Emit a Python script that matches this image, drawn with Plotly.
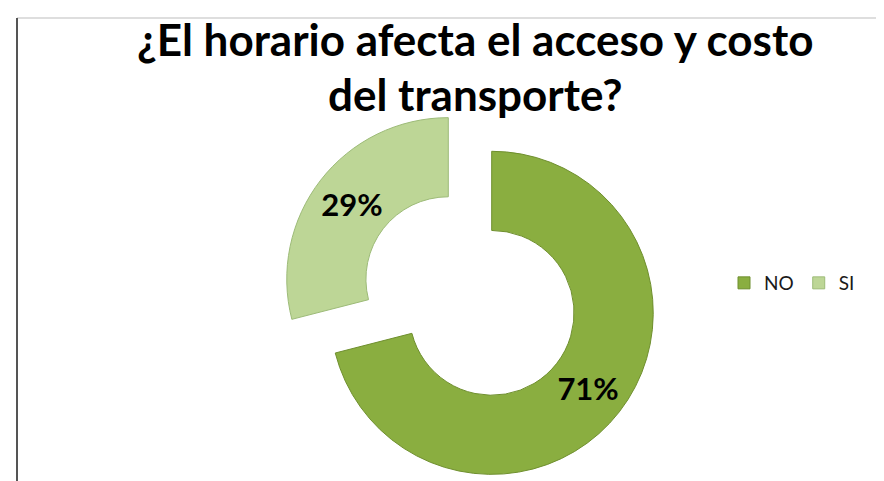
import plotly.graph_objects as go

# data
labels = ["NO", "SI"]
values = [71, 29]
colors = ["#8AAE40", "#BDD696"]
line_colors = ["#6F8F2E", "#9DBB78"]
title_lines = ["¿El horario afecta el acceso y costo", "del transporte?"]

W, H = 884, 481
FONT = "Lato, Open Sans, sans-serif"

fig = go.Figure()

fig.add_trace(go.Pie(
    labels=labels,
    values=values,
    hole=0.51,
    sort=False,
    direction="clockwise",
    rotation=0,
    pull=[0.17, 0.17],
    marker=dict(colors=colors, line=dict(color=line_colors, width=1)),
    texttemplate="%{percent:.0%}",
    textposition="inside",
    insidetextorientation="horizontal",
    textfont=dict(family=FONT, size=31, color="black", weight="bold"),
    domain=dict(x=[273 / W, 651 / W], y=[1 - 477 / H, 1 - 99 / H]),
    hoverinfo="label+percent",
))

# frame lines on top and left
fig.add_shape(type="line", xref="paper", yref="paper",
              x0=9 / W, x1=1, y0=1 - 10 / H, y1=1 - 10 / H,
              line=dict(color="#BDBDBD", width=1))
fig.add_shape(type="line", xref="paper", yref="paper",
              x0=9 / W, x1=9 / W, y0=0, y1=1 - 10 / H,
              line=dict(color="#555555", width=2))

# title as two lines
for line, ypix in zip(title_lines, [31, 86]):
    fig.add_annotation(
        text=line, xref="paper", yref="paper",
        x=467 / W, y=1 - ypix / H, xanchor="center", yanchor="middle",
        showarrow=False,
        font=dict(family=FONT, size=44, color="black", weight="bold"),
    )

fig.update_layout(
    width=W,
    height=H,
    margin=dict(l=0, r=0, t=0, b=0),
    paper_bgcolor="white",
    plot_bgcolor="white",
    legend=dict(
        orientation="h",
        x=716 / W,
        xanchor="left",
        y=1 - 275 / H,
        yanchor="middle",
        font=dict(family=FONT, size=19, color="#1A1A1A"),
    ),
)

fig.write_html("out.html")
